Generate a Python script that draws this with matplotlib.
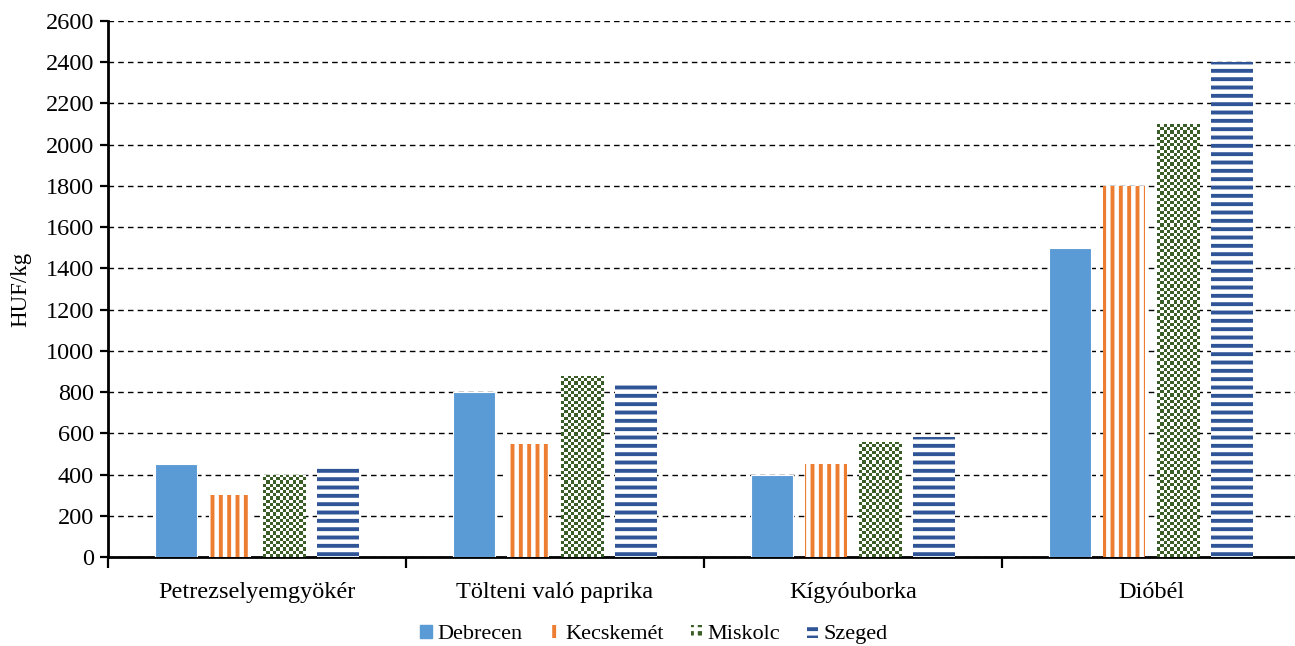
import matplotlib.pyplot as plt
import matplotlib.patches as mpatches
from matplotlib.colors import ListedColormap
import numpy as np

plt.rcParams['font.family'] = 'Liberation Serif'
plt.rcParams['hatch.linewidth'] = 2.8

categories = ["Petrezselyemgyökér", "Tölteni való paprika", "Kígyóuborka", "Dióbél"]
cities = ["Debrecen", "Kecskemét", "Miskolc", "Szeged"]
debrecen = [450, 800, 400, 1500]
kecskemet = [300, 550, 450, 1800]
miskolc = [400, 880, 560, 2100]
szeged = [445, 840, 580, 2400]
yticks = list(range(0, 2601, 200))

BLUE = "#5B9BD5"
ORANGE = "#ED7D31"
GREEN = "#3B5E28"
NAVY = "#2F5597"

fig = plt.figure(figsize=(12.95, 6.46), dpi=100)
ax = fig.add_axes([0.0834, 0.1378, 0.9205, 0.8297])

x = np.arange(len(categories))
w = 0.142
offs = [-0.272, -0.091, 0.091, 0.272]

ax.set_xlim(-0.5, 3.5)
ax.set_ylim(0, 2600)

ax.bar(x + offs[0], debrecen, w, color=BLUE, edgecolor="white", linewidth=0.8, zorder=3)

kb = ax.bar(x + offs[1], kecskemet, w, facecolor="white", edgecolor=ORANGE,
            linewidth=0, hatch="||", zorder=3)

mb = ax.bar(x + offs[2], miskolc, w, facecolor=GREEN, linewidth=0, zorder=3)

sb = ax.bar(x + offs[3], szeged, w, facecolor="white", edgecolor=NAVY,
            linewidth=0, hatch="--", zorder=3)

# checker pattern for Miskolc bars, clipped to each bar
cmap = ListedColormap(["white", GREEN])
for r in mb:
    x0, h = r.get_x(), r.get_height()
    x1 = x0 + r.get_width()
    p0 = ax.transData.transform((x0, 0))
    p1 = ax.transData.transform((x1, h))
    nx = max(1, int(round((p1[0] - p0[0]) / 3.2)))
    ny = max(1, int(round((p1[1] - p0[1]) / 3.2)))
    ii, jj = np.indices((ny, nx))
    arr = ((ii + jj) % 2 == 0).astype(int)
    im = ax.imshow(arr, cmap=cmap, extent=(x0, x1, 0, h), aspect="auto",
                   interpolation="nearest", origin="lower", zorder=3.5)
    im.set_clip_path(r)

ax.set_xlim(-0.5, 3.5)
ax.set_ylim(0, 2600)

ax.set_yticks(yticks)
ax.yaxis.grid(True, linestyle=(0, (4, 3)), color="black", linewidth=1.0, zorder=0)
ax.set_axisbelow(True)

ax.set_xticks([-0.5, 0.5, 1.5, 2.5, 3.5])
ax.set_xticklabels([])
ax.set_xticks(x, minor=True)
ax.set_xticklabels(categories, minor=True, fontsize=17.5)
ax.tick_params(axis="x", which="major", length=8, width=1.6, direction="out")
ax.tick_params(axis="x", which="minor", length=0, pad=18)
ax.tick_params(axis="y", length=6, width=1.6, direction="out", labelsize=17.5, pad=4)

for s in ["top", "right"]:
    ax.spines[s].set_visible(False)
ax.spines["left"].set_linewidth(2)
ax.spines["bottom"].set_linewidth(2)

ax.set_ylabel("HUF/kg", fontsize=16.5, labelpad=10)

handles = [
    mpatches.Patch(facecolor=BLUE, edgecolor=BLUE, label=cities[0]),
    mpatches.Patch(facecolor="white", edgecolor=ORANGE, hatch="||", linewidth=0, label=cities[1]),
    mpatches.Patch(facecolor=GREEN, edgecolor="white", hatch="++", linewidth=0, label=cities[2]),
    mpatches.Patch(facecolor="white", edgecolor=NAVY, hatch="--", linewidth=0, label=cities[3]),
]
fig.legend(handles=handles, loc="lower center", ncol=4, frameon=False, fontsize=16,
           bbox_to_anchor=(0.505, -0.028), handlelength=0.5, handleheight=0.5,
           handletextpad=0.25, columnspacing=1.2)

fig.savefig("out.png", dpi=100)
